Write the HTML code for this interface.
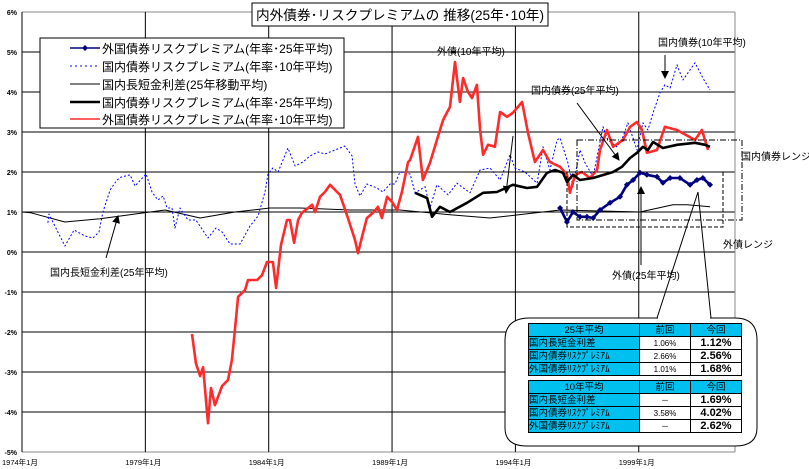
<!DOCTYPE html>
<html><head><meta charset="utf-8">
<style>
html,body{margin:0;padding:0;background:#fff;}
body{width:809px;height:469px;overflow:hidden;position:relative;font-family:"Liberation Sans","Noto Sans CJK JP",sans-serif;}
svg{position:absolute;left:0;top:0;}
text{font-family:"Liberation Sans","Noto Sans CJK JP",sans-serif;}
table.t{border-collapse:collapse;font-size:9.5px;line-height:11px;table-layout:fixed;}
table.t td{padding:0;height:12px;border:1px solid #000;overflow:hidden;white-space:nowrap;}
table.t td.h{background:#00c0f0;}
table.t td.c{text-align:center;}
table.t td.p{font-size:8px;text-align:center;}
table.t td.n{font-weight:bold;font-size:11px;text-align:center;}
</style></head>
<body>
<svg id="chart" width="809" height="469" viewBox="0 0 809 469">
  <g id="grid"></g>
  <g id="series"></g>
</svg>
<script>
const yTicks = [6,5,4,3,2,1,0,-1,-2,-3,-4,-5];
const xTickYears = [1974,1979,1984,1989,1994,1999];
const xTickLabels = ["1974年1月","1979年1月","1984年1月","1989年1月","1994年1月","1999年1月"];

const domestic10Years = [1975.05,1975.09,1975.74,1976.11,1976.55,1976.88,1977.12,1977.28,1977.57,1977.85,1978.01,1978.38,1978.58,1979.03,1979.27,1979.51,1979.72,1979.88,1980.08,1980.2,1980.4,1980.73,1981.05,1981.54,1981.86,1982.11,1982.43,1982.84,1983.24,1983.57,1983.85,1983.97,1984.17,1984.38,1984.78,1985.07,1985.39,1985.67,1986.0,1986.28,1986.69,1987.09,1987.38,1987.5,1987.7,1987.98,1988.39,1988.63,1988.92,1989.12,1989.32,1989.73,1989.93,1990.34,1990.54,1990.82,1991.27,1991.63,1992.16,1992.57,1992.97,1993.38,1993.78,1993.98,1994.39,1994.88,1995.12,1995.4,1995.69,1995.81,1996.13,1996.33,1996.62,1996.82,1997.15,1997.55,1997.75,1998.12,1998.36,1998.56,1998.93,1999.17,1999.37,1999.58,1999.86,2000.06,2000.27,2000.55,2000.79,2001.28,2001.6,2001.89];
const domestic10Values = [0.73,0.95,0.15,0.55,0.4,0.35,0.5,1.0,1.55,1.8,1.87,1.93,1.65,1.95,1.5,1.3,1.4,1.1,1.1,0.6,1.1,0.8,0.8,0.35,0.6,0.5,0.2,0.2,0.65,0.9,1.5,1.95,2.1,2.0,2.6,2.15,2.25,2.4,2.5,2.45,2.55,2.65,2.4,1.7,1.4,1.7,1.6,1.5,1.7,1.7,2.0,1.95,1.48,1.63,1.1,1.68,1.43,1.72,1.48,2.05,2.1,1.8,2.43,2.1,2.0,1.72,2.63,2.05,2.8,2.85,2.23,1.63,2.55,2.23,1.88,3.13,2.8,2.63,2.88,3.23,2.55,3.23,3.05,3.48,3.98,4.18,4.1,4.68,4.3,4.73,4.35,4.05];

const foreign10Years = [1980.89,1981.05,1981.22,1981.34,1981.54,1981.66,1981.82,1982.11,1982.35,1982.51,1982.63,1982.76,1983.04,1983.16,1983.53,1983.73,1983.93,1984.17,1984.3,1984.5,1984.74,1984.86,1985.03,1985.19,1985.35,1985.76,1985.88,1986.08,1986.28,1986.49,1986.69,1986.89,1987.21,1987.5,1987.62,1987.78,1987.98,1988.23,1988.43,1988.59,1988.8,1989.0,1989.2,1989.4,1989.65,1989.73,1990.05,1990.25,1990.54,1990.82,1991.07,1991.35,1991.55,1991.75,1991.88,1992.08,1992.24,1992.44,1992.57,1992.69,1992.89,1993.17,1993.38,1993.66,1993.9,1994.27,1994.51,1994.79,1995.12,1995.4,1995.81,1996.09,1996.21,1996.42,1996.7,1997.02,1997.31,1997.43,1997.71,1997.96,1998.36,1998.65,1998.93,1999.13,1999.33,1999.46,1999.74,2000.06,2000.55,2001.28,2001.56,2001.81];
const foreign10Values = [-2.05,-2.78,-3.1,-2.88,-4.28,-3.4,-3.83,-3.35,-3.2,-2.7,-1.95,-1.12,-0.95,-0.7,-0.7,-0.58,-0.25,-0.25,-0.9,0.18,0.8,0.8,0.23,0.8,0.98,1.18,1.0,1.38,1.5,1.68,1.55,1.43,0.85,0.3,-0.03,0.38,0.85,0.98,1.13,0.85,1.38,1.25,1.05,1.5,2.25,2.3,2.88,1.8,2.23,2.8,3.3,3.63,4.75,3.75,4.35,4.0,3.85,4.18,3.05,2.43,2.68,2.63,3.5,3.38,3.48,3.75,2.98,2.25,2.55,2.25,2.13,1.93,1.48,1.93,2.0,1.85,2.05,2.55,3.05,2.63,2.8,3.13,3.25,3.05,2.48,2.5,2.55,3.13,3.05,2.8,3.05,2.55];

const domestic25Years = [1989.93,1990.42,1990.62,1990.94,1991.35,1992.04,1992.69,1993.25,1993.9,1994.47,1994.88,1995.28,1995.61,1995.93,1996.09,1996.33,1996.62,1997.15,1997.96,1998.32,1998.65,1998.93,1999.17,1999.37,1999.58,1999.98,2000.55,2001.28,2001.69,2001.89];
const domestic25Values = [1.48,1.35,0.88,1.13,1.0,1.23,1.48,1.5,1.68,1.6,1.63,1.98,2.05,1.98,1.75,1.93,1.8,1.85,2.0,2.13,2.35,2.48,2.63,2.55,2.75,2.6,2.68,2.73,2.68,2.63];

const foreign25Years = [1995.81,1996.09,1996.33,1996.62,1996.9,1997.15,1997.43,1997.84,1998.24,1998.52,1998.77,1999.05,1999.33,1999.74,1999.98,2000.27,2000.67,2001.08,2001.36,2001.6,2001.89];
const foreign25Values = [1.1,0.75,1.0,0.88,0.88,0.85,1.05,1.23,1.38,1.68,1.8,1.98,1.93,1.88,1.73,1.85,1.85,1.68,1.8,1.85,1.68];

const spreadYears = [1974.0,1974.36,1975.74,1977.16,1979.19,1979.8,1981.22,1982.63,1984.05,1985.27,1987.3,1989.32,1991.35,1992.97,1995.81,1999.05,2000.39,2000.96,2001.89];
const spreadValues = [1.0,0.98,0.75,0.83,1.0,1.05,0.85,1.0,1.1,1.1,1.05,1.05,0.93,0.85,1.05,1.0,1.18,1.18,1.13];

const NS="http://www.w3.org/2000/svg";
const X0=22, X1=735, Y_TOP=12, Y_BOT=452;
function xs(t){return X0+(t-1974)*24.67;}
function ys(v){return 252-v*40;}
function mk(tag,attrs,parent){const e=document.createElementNS(NS,tag);for(const k in attrs)e.setAttribute(k,attrs[k]);parent.appendChild(e);return e;}
const grid=document.getElementById('grid'), ser=document.getElementById('series');

yTicks.forEach(v=>{
  const l=mk('line',{x1:X0,x2:X1,y1:ys(v),y2:ys(v),stroke:(v===6||v===-5)?'#888':'#000','stroke-width':1},grid);
  
  
  const t=mk('text',{x:17,y:ys(v)+3,'font-size':7,'text-anchor':'end','font-weight':'bold'},grid);
  t.textContent=v+'%';
  
  
});
xTickYears.forEach((yr,i)=>{
  const l=mk('line',{x1:xs(yr),x2:xs(yr),y1:Y_TOP,y2:Y_BOT,stroke:'#000','stroke-width':1},grid);
  
  
  const t=mk('text',{x:xs(yr)-20,y:465,'font-size':7.5},grid);
  t.textContent=xTickLabels[i];
  
  
});
const rb=mk('line',{x1:X1,x2:X1,y1:Y_TOP,y2:Y_BOT,stroke:'#888','stroke-width':1},grid);



function poly(xa,va,attrs,name){
  const pts=xa.map((t,i)=>xs(t).toFixed(1)+','+ys(va[i]).toFixed(1)).join(' ');
  const p=mk('polyline',Object.assign({points:pts,fill:'none','stroke-linejoin':'round'},attrs),ser);
  
  
  return p;
}
poly(spreadYears,spreadValues,{stroke:'#000','stroke-width':1},'domestic-spread-25y-line');
poly(domestic10Years,domestic10Values,{stroke:'#0000ff','stroke-width':1,'stroke-dasharray':'2 2'},'domestic-premium-10y-line');
poly(foreign10Years,foreign10Values,{stroke:'#ff2a2a','stroke-width':2.6},'foreign-premium-10y-line');
poly(domestic25Years,domestic25Values,{stroke:'#000','stroke-width':2.6},'domestic-premium-25y-line');
poly(foreign25Years,foreign25Values,{stroke:'#000080','stroke-width':2.6},'foreign-premium-25y-line');
foreign25Years.forEach((t,i)=>{
  const d=mk('path',{d:`M${xs(t)} ${ys(foreign25Values[i])-3} l3 3 l-3 3 l-3 -3z`,fill:'#000080'},ser);
  
  
});
</script>
<svg width="809" height="469" style="pointer-events:none">
  <defs><marker id="ah" markerWidth="8" markerHeight="8" refX="7" refY="4" orient="auto"><path d="M0,0 L8,4 L0,8 z" fill="#000"/></marker></defs>
  <g>
    <rect x="252" y="3" width="296" height="23" fill="#fff" stroke="#000"/>
    <text x="400" y="20" font-size="13.5" text-anchor="middle" textLength="288" lengthAdjust="spacingAndGlyphs">内外債券･リスクプレミアムの 推移(25年･10年)</text>
  </g>
  <g font-size="12">
    <rect x="40" y="38" width="304" height="90" fill="#fff" stroke="#000"/>
    <g><line x1="70" x2="100" y1="48" y2="48" stroke="#000080" stroke-width="1.5"/><path d="M85 45 l3 3 l-3 3 l-3 -3z" fill="#000080"/><text x="102" y="53">外国債券リスクプレミアム(年率･25年平均)</text></g>
    <g><line x1="70" x2="100" y1="66" y2="66" stroke="#0000ff" stroke-dasharray="2 3"/><text x="102" y="71">国内債券リスクプレミアム(年率･10年平均)</text></g>
    <g><line x1="70" x2="100" y1="84" y2="84" stroke="#000"/><text x="102" y="89">国内長短金利差(25年移動平均)</text></g>
    <g><line x1="70" x2="100" y1="102" y2="102" stroke="#000" stroke-width="2.5"/><text x="102" y="107">国内債券リスクプレミアム(年率･25年平均)</text></g>
    <g><line x1="70" x2="100" y1="119" y2="119" stroke="#ff2a2a" stroke-width="1.5"/><text x="102" y="124">外国債券リスクプレミアム(年率･10年平均)</text></g>
  </g>
  <rect x="577" y="140" width="165" height="80" fill="none" stroke="#000" stroke-dasharray="6 2 1 2"/>
  <rect x="567" y="172" width="156" height="55" fill="none" stroke="#000" stroke-dasharray="4 2"/>
  <g font-size="10">
    <text x="437" y="55">外債(10年平均)</text>
    <text x="658" y="46">国内債券(10年平均)</text>
    <text x="531" y="94">国内債券(25年平均)</text>
    <text x="741" y="160">国内債券レンジ</text>
    <text x="723" y="248">外債レンジ</text>
    <text x="612" y="279">外債(25年平均)</text>
    <text x="50" y="276">国内長短金利差(25年平均)</text>
  </g>
  <line x1="665" y1="55" x2="665" y2="78" stroke="#000" marker-end="url(#ah)"/>
  <line x1="577" y1="103" x2="619" y2="160" stroke="#000" marker-end="url(#ah)"/>
  <line x1="641" y1="265" x2="641" y2="187" stroke="#000" marker-end="url(#ah)"/>
  <line x1="106" y1="258" x2="118" y2="216" stroke="#000" marker-end="url(#ah)"/>
  <line x1="513" y1="136" x2="506" y2="193" stroke="#000" marker-end="url(#ah)"/>
  <path d="M530 318 L735 318 Q757 318 757 340 L757 428 Q757 446 735 446 L527 446 Q505 446 505 428 L505 340 Q505 318 530 318 Z" fill="#fff" stroke="#000"/>
  <path d="M657 318 L698 192 L711 318" fill="none" stroke="#000"/>
  <line x1="658" y1="318" x2="710" y2="318" stroke="#fff" stroke-width="1.5"/>
</svg>
<div style="position:absolute;left:528px;top:323px;">
<table class="t">
<colgroup><col style="width:111px"><col style="width:51px"><col style="width:51px"></colgroup>
<tr><td class="h c">25年平均</td><td class="h c">前回</td><td class="h c">今回</td></tr>
<tr><td class="h">国内長短金利差</td><td class="p">1.06%</td><td class="n">1.12%</td></tr>
<tr><td class="h">国内債券ﾘｽｸﾌﾟﾚﾐｱﾑ</td><td class="p">2.66%</td><td class="n">2.56%</td></tr>
<tr><td class="h">外国債券ﾘｽｸﾌﾟﾚﾐｱﾑ</td><td class="p">1.01%</td><td class="n">1.68%</td></tr>
</table></div>
<div style="position:absolute;left:528px;top:380px;">
<table class="t">
<colgroup><col style="width:111px"><col style="width:51px"><col style="width:51px"></colgroup>
<tr><td class="h c">10年平均</td><td class="h c">前回</td><td class="h c">今回</td></tr>
<tr><td class="h">国内長短金利差</td><td class="p">－</td><td class="n">1.69%</td></tr>
<tr><td class="h">国内債券ﾘｽｸﾌﾟﾚﾐｱﾑ</td><td class="p">3.58%</td><td class="n">4.02%</td></tr>
<tr><td class="h">外国債券ﾘｽｸﾌﾟﾚﾐｱﾑ</td><td class="p">－</td><td class="n">2.62%</td></tr>
</table></div>
</body></html>
